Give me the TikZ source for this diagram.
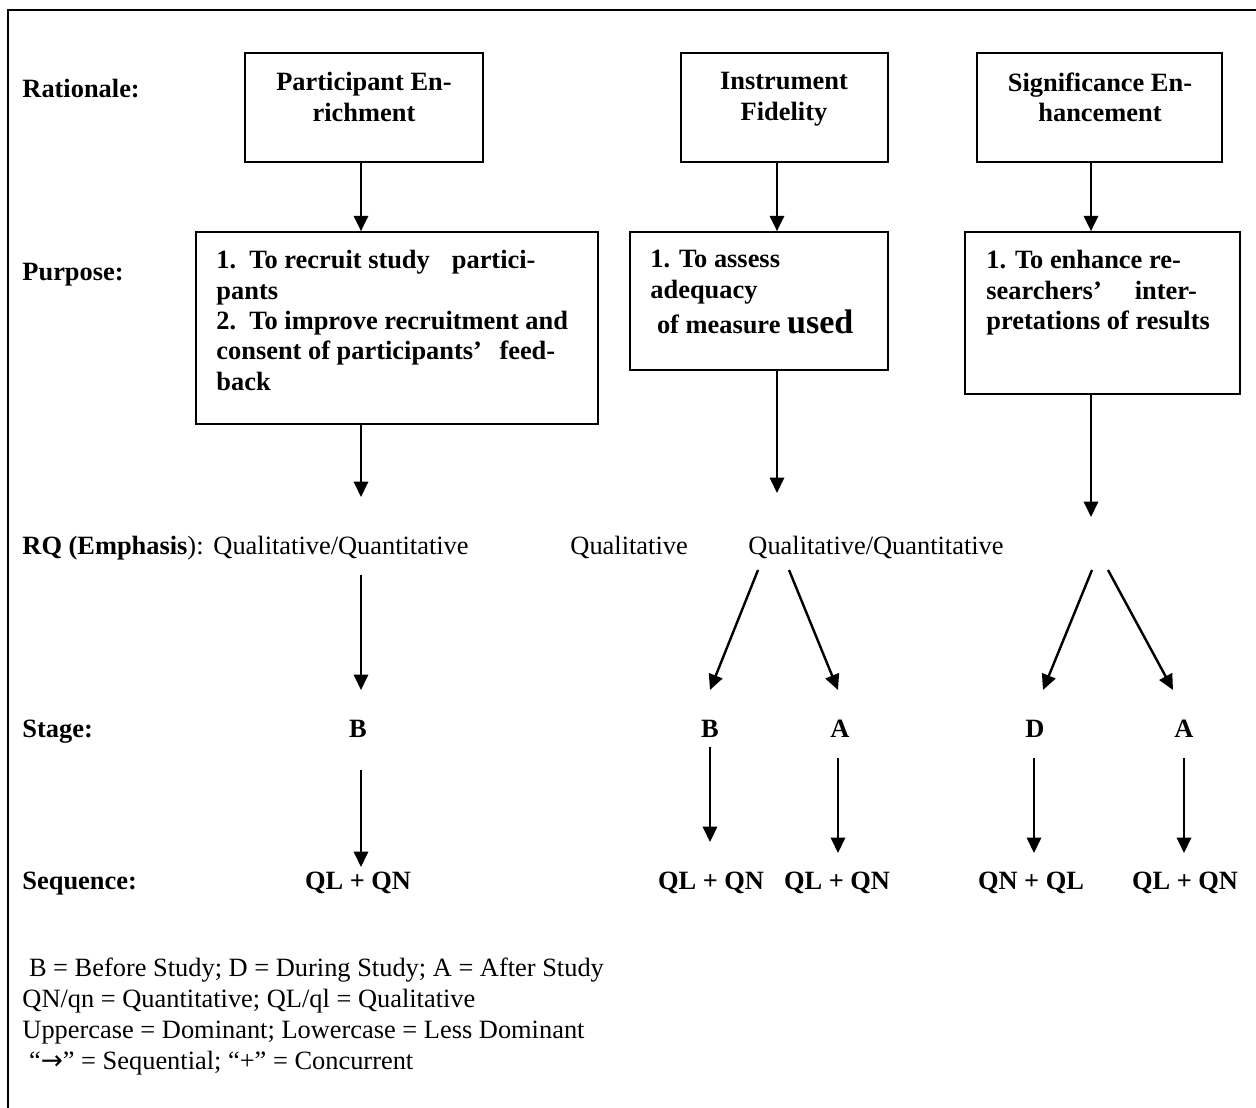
\documentclass[tikz,border=0pt]{standalone}
\usepackage{fontspec}
\setmainfont{Liberation Serif}
\newfontfamily\arrowfont{DejaVu Sans}
\usetikzlibrary{arrows.meta,fit}
\begin{document}
\begin{tikzpicture}[x=0.4545pt,y=-0.4545pt,
  every node/.style={inner sep=0pt, font=\fontsize{12}{13.8}\selectfont},
  lbl/.style={anchor=base west, font=\fontsize{12}{13.8}\selectfont\bfseries},
  box/.style={draw, line width=0.75pt, inner sep=0pt},
  btxt/.style={font=\fontsize{12}{13.8}\selectfont\bfseries, align=left, anchor=north west},
  ctxt/.style={font=\fontsize{12}{13.8}\selectfont\bfseries, align=center, anchor=north},
  bt/.style={anchor=base, font=\fontsize{12}{13.8}\selectfont\bfseries},
  rt/.style={anchor=base west, font=\fontsize{12}{13.8}\selectfont},
  arr/.style={line width=1.1pt, -{Triangle[length=7pt,width=6.5pt]}},
]
\useasboundingbox (0,0) rectangle (1256,1108);
% outer frame (only top and left edges visible)
\draw[line width=1pt] (8,1130) -- (8,10) -- (1280,10);

% column positions of the vertical connectors
\coordinate (c1) at (361,0);
\coordinate (c2) at (777,0);
\coordinate (c3) at (1091,0);

% row labels
\node[lbl] (lrat) at (22,98) {Rationale:};
\node[lbl] (lpur) at (22,281) {Purpose:};
\node[rt] (lrq) at (22,555) {\textbf{RQ (Emphasis}):};
\node[lbl] (lsta) at (22,738) {Stage:};
\node[lbl] (lseq) at (22,890) {Sequence:};

% rationale boxes
\node[box, fit={(245,53) (483,162)}] (r1) {};
\node[box, fit={(681,53) (888,162)}] (r2) {};
\node[box, fit={(977,53) (1222,162)}] (r3) {};
\node[ctxt] (r1t) at (364,72) {Participant En-\\richment};
\node[ctxt] (r2t) at (784,72) {Instrument\\Fidelity};
\node[ctxt] (r3t) at (1100,72) {Significance En-\\hancement};

% purpose boxes
\node[box, fit={(196,232) (598,424)}] (p1) {};
\node[box, fit={(630,232) (888,370)}] (p2) {};
\node[box, fit={(965,232) (1240,394)}] (p3) {};
\node[btxt] (p1t) at (216,250) {1.\ \ To recruit study\hspace{10pt}partici-\\pants\\2.\ \ To improve recruitment and\\consent of participants’\hspace{8pt}feed-\\back};
\node[btxt] (p2t) at (650,250) {1. To assess\\adequacy\\[2.3pt]\ of measure {\fontsize{15.5}{15.5}\selectfont used}};
\node[btxt] (p3t) at (986,250) {1. To enhance re-\\searchers’\hspace{15pt}inter-\\pretations of results};

% rationale -> purpose
\draw[arr] (r1.south -| c1) -- (p1.north -| c1);
\draw[arr] (r2.south -| c2) -- (p2.north -| c2);
\draw[arr] (r3.south -| c3) -- (p3.north -| c3);

% RQ row
\node[rt] (q1) at (213,555) {Qualitative/Quantitative};
\node[rt] (q2) at (570,555) {Qualitative};
\node[rt] (q3) at (748,555) {Qualitative/Quantitative};

% purpose -> RQ
\coordinate (e1) at (361,497);
\coordinate (e2) at (777,493);
\coordinate (e3) at (1091,517);
\draw[arr] (p1.south -| c1) -- (e1);
\draw[arr] (p2.south -| c2) -- (e2);
\draw[arr] (p3.south -| c3) -- (e3);

% stage row
\node[bt] (s1) at (358,738) {B};
\node[bt] (s2) at (710,738) {B};
\node[bt] (s3) at (840,738) {A};
\node[bt] (s4) at (1035,738) {D};
\node[bt] (s5) at (1184,738) {A};

% RQ -> stage
\coordinate (o1) at (361,575);
\coordinate (o2) at (758,570);
\coordinate (o3) at (789,570);
\coordinate (o4) at (1092,570);
\coordinate (o5) at (1108,570);
\coordinate (t1) at (361,690);
\coordinate (t2) at (710,690);
\coordinate (t3) at (838,690);
\coordinate (t4) at (1043,690);
\coordinate (t5) at (1173,690);
\draw[arr] (o1) -- (t1);
\draw[arr] (o2) -- (t2);
\draw[arr] (o3) -- (t3);
\draw[arr] (o4) -- (t4);
\draw[arr] (o5) -- (t5);

% sequence row
\node[bt] (n1) at (358,890) {QL + QN};
\node[bt] (n2) at (711,890) {QL + QN};
\node[bt] (n3) at (837,890) {QL + QN};
\node[bt] (n4) at (1031,890) {QN + QL};
\node[bt] (n5) at (1185,890) {QL + QN};

% stage -> sequence
\coordinate (u1) at (361,770);
\coordinate (u2) at (710,747);
\coordinate (u3) at (838,758);
\coordinate (u4) at (1034,758);
\coordinate (u5) at (1184,758);
\coordinate (v1) at (361,867);
\coordinate (v2) at (710,842);
\coordinate (v3) at (838,853);
\coordinate (v4) at (1034,853);
\coordinate (v5) at (1184,853);
\draw[arr] (u1) -- (v1);
\draw[arr] (u2) -- (v2);
\draw[arr] (u3) -- (v3);
\draw[arr] (u4) -- (v4);
\draw[arr] (u5) -- (v5);

% legend
\node[anchor=north west, align=left, font=\fontsize{12}{14.1}\selectfont] (leg) at (22,957)
  {\ B = Before Study; D = During Study; A = After Study\\
   QN/qn = Quantitative; QL/ql = Qualitative\\
   Uppercase = Dominant; Lowercase = Less Dominant\\
   \ “{\arrowfont →}” = Sequential; “+” = Concurrent};
\end{tikzpicture}
\end{document}
